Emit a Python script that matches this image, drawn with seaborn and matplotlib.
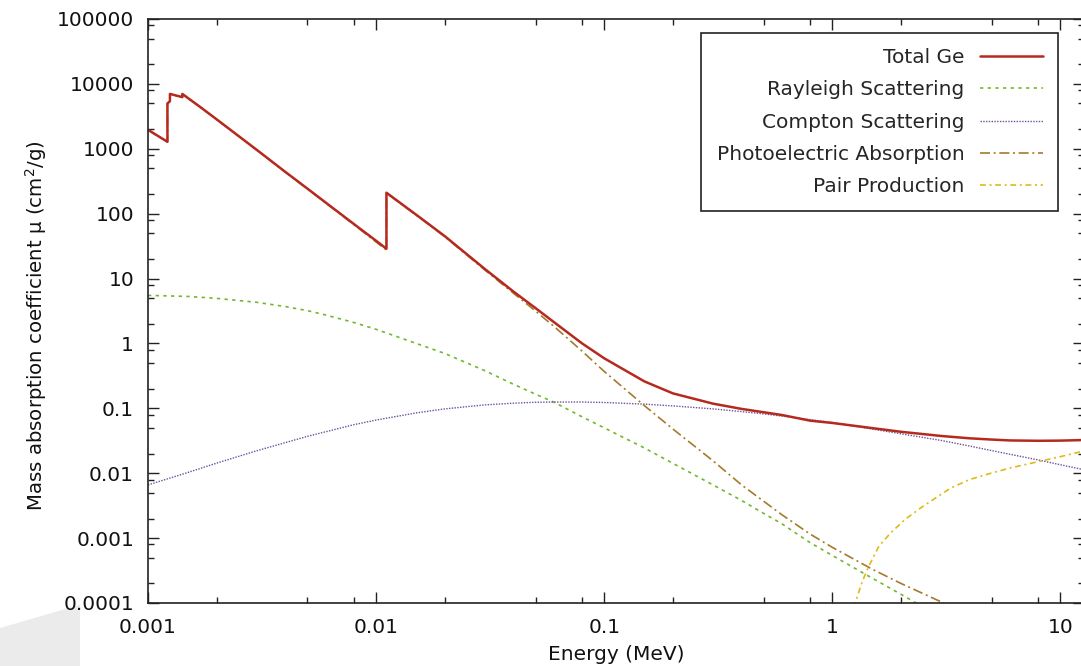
import numpy as np
import pandas as pd
import seaborn as sns
import matplotlib.pyplot as plt
from matplotlib.lines import Line2D
from matplotlib.patches import Polygon
from matplotlib.ticker import LogLocator, NullFormatter, FixedFormatter, FixedLocator

# Mass absorption data for germanium
# (energy in MeV, mu in cm^2/g); duplicated energies are absorption edges
total_energy = [0.001, 0.001217, 0.001217, 0.001248, 0.001248, 0.001414, 0.001414,
                0.00169, 0.002, 0.003, 0.004, 0.005, 0.006, 0.008, 0.01, 0.0111,
                0.0111, 0.0156, 0.02, 0.03, 0.04, 0.05, 0.06, 0.08, 0.1, 0.15,
                0.2, 0.3, 0.4, 0.5, 0.6, 0.8, 1.0, 1.5, 2.0, 3.0, 4.0, 5.0, 6.0,
                8.0, 10.0, 12.4, 15.0]
total_mu = [1960, 1280, 5000, 5400, 7000, 6250, 7000,
            4430, 2840, 960, 440, 243, 149, 69, 38.2, 28.8,
            210, 86.7, 45, 14, 6.3, 3.5, 2.15, 1.0, 0.59, 0.26,
            0.17, 0.118, 0.098, 0.087, 0.079, 0.0645, 0.0595, 0.0495, 0.0435,
            0.0375, 0.0345, 0.033, 0.032, 0.0316, 0.0318, 0.0324, 0.033]

rayleigh_energy = [0.001, 0.0015, 0.002, 0.003, 0.004, 0.005, 0.006, 0.008, 0.01,
                   0.015, 0.02, 0.03, 0.04, 0.05, 0.06, 0.08, 0.1, 0.15, 0.2,
                   0.3, 0.4, 0.5, 0.6, 0.8, 1.0, 1.5, 2.0, 2.5, 3.0]
rayleigh_mu = [5.5, 5.3, 4.95, 4.3, 3.7, 3.2, 2.75, 2.1, 1.65,
               1.0, 0.7, 0.38, 0.235, 0.165, 0.125, 0.074, 0.05, 0.0245, 0.0142,
               0.0066, 0.0038, 0.0024, 0.00167, 0.00085, 0.00054, 0.00024,
               0.000136, 0.000087, 0.00006]

compton_energy = [0.001, 0.0015, 0.002, 0.003, 0.005, 0.008, 0.01, 0.015, 0.02,
                  0.03, 0.04, 0.05, 0.06, 0.08, 0.1, 0.15, 0.2, 0.3, 0.4, 0.5,
                  0.6, 0.8, 1.0, 1.5, 2.0, 3.0, 4.0, 5.0, 6.0, 8.0, 10.0, 12.4, 15.0]
compton_mu = [0.0066, 0.0103, 0.0143, 0.0222, 0.037, 0.056, 0.066, 0.085, 0.098,
              0.113, 0.12, 0.124, 0.125, 0.125, 0.123, 0.116, 0.109, 0.098, 0.089,
              0.082, 0.076, 0.067, 0.0605, 0.0478, 0.0405, 0.032, 0.0262, 0.0223,
              0.0196, 0.016, 0.0135, 0.0115, 0.0101]

photo_energy = [0.001, 0.001217, 0.001217, 0.001248, 0.001248, 0.001414, 0.001414,
                0.00169, 0.002, 0.003, 0.004, 0.005, 0.006, 0.008, 0.01, 0.0111,
                0.0111, 0.0156, 0.02, 0.03, 0.04, 0.05, 0.06, 0.08, 0.1, 0.15,
                0.2, 0.3, 0.4, 0.5, 0.6, 0.8, 1.0, 1.5, 2.0, 3.0, 3.5]
photo_mu = [1950, 1272, 4990, 5390, 6990, 6240, 6990,
            4420, 2830, 955, 436, 240, 147, 67.5, 36.6, 27.5,
            208, 85.6, 44.2, 13.5, 5.95, 3.15, 1.85, 0.76, 0.37, 0.11,
            0.048, 0.0155, 0.0066, 0.0037, 0.0023, 0.00115, 0.00072, 0.00033,
            0.0002, 0.000104, 0.00008]

pair_energy = [1.2, 1.26, 1.35, 1.44, 1.6, 1.8, 2.09, 2.5, 3.3, 4.0, 5.0, 6.0,
               8.0, 10.0, 12.4, 15.0]
pair_mu = [0.00005, 0.0001, 0.00021, 0.00036, 0.00075, 0.0012, 0.00196, 0.0031,
           0.0059, 0.008, 0.0101, 0.012, 0.0151, 0.018, 0.0216, 0.024]

x_ticks = [0.001, 0.01, 0.1, 1, 10]
x_tick_labels = ['0.001', '0.01', '0.1', '1', '10']
y_ticks = [1e-4, 1e-3, 1e-2, 1e-1, 1, 10, 100, 1000, 10000, 100000]
y_tick_labels = ['0.0001', '0.001', '0.01', '0.1', '1', '10', '100', '1000', '10000', '100000']

series = [
    ('Total Ge', total_energy, total_mu, '#b52a1f', '-', 1.8),
    ('Rayleigh Scattering', rayleigh_energy, rayleigh_mu, '#72b82e', (0, (2.0, 2.6)), 1.2),
    ('Compton Scattering', compton_energy, compton_mu, '#6e4f9c', (0, (1.0, 1.0)), 1.0),
    ('Photoelectric Absorption', photo_energy, photo_mu, '#a67a2c', (0, (6, 2.2, 1.2, 2.2)), 1.2),
    ('Pair Production', pair_energy, pair_mu, '#dcbc14', (0, (3.5, 2.2, 1.2, 2.2)), 1.2),
]

sns.set_theme(style='ticks')
plt.rcParams['font.family'] = ['DejaVu Sans']
plt.rcParams['mathtext.default'] = 'regular'

fig = plt.figure(figsize=(10.81, 6.66), dpi=100)
fig.patches.append(Polygon([[0, 0.057], [0.074, 0.092], [0.074, 0], [0, 0]],
                           closed=True, transform=fig.transFigure,
                           facecolor='#ebebeb', edgecolor='none', zorder=-10))
ax = fig.add_axes([0.1369, 0.0946, 0.866, 0.8769])

handles = []
# plot the components first so the total sits on top
for name, xs, ys, color, ls, lw in series[1:] + series[:1]:
    df = pd.DataFrame({'energy': xs, 'mu': ys})
    sns.lineplot(data=df, x='energy', y='mu', ax=ax, color=color, linestyle=ls,
                 linewidth=lw, estimator=None, sort=False, legend=False)
for name, xs, ys, color, ls, lw in series:
    handles.append(Line2D([], [], color=color, linestyle=ls, linewidth=lw, label=name))

ax.set_xscale('log')
ax.set_yscale('log')
ax.set_xlim(0.001, 12.7)
ax.set_ylim(1e-4, 1e5)

ax.xaxis.set_major_locator(FixedLocator(x_ticks))
ax.xaxis.set_major_formatter(FixedFormatter(x_tick_labels))
ax.yaxis.set_major_locator(FixedLocator(y_ticks))
ax.yaxis.set_major_formatter(FixedFormatter(y_tick_labels))
ax.xaxis.set_minor_locator(LogLocator(base=10, subs=(2, 5, 8), numticks=20))
ax.yaxis.set_minor_locator(LogLocator(base=10, subs=(2, 5, 8), numticks=20))
ax.xaxis.set_minor_formatter(NullFormatter())
ax.yaxis.set_minor_formatter(NullFormatter())

ax.tick_params(which='both', direction='in', top=True, right=True, color='#222222', width=1.0)
ax.tick_params(which='major', length=8, labelsize=14.5, labelcolor='#111111')
ax.tick_params(which='minor', length=4)
ax.tick_params(axis='x', which='major', pad=10.5)
ax.tick_params(axis='y', which='major', pad=10)
for sp in ax.spines.values():
    sp.set_color('#222222')
    sp.set_linewidth(1.2)

ax.set_xlabel('Energy (MeV)', fontsize=14.5, color='#111111')
ax.xaxis.set_label_coords(0.5, -0.072)
ax.set_ylabel(r'Mass absorption coefficient μ (cm$^2$/g)', fontsize=14.2, color='#111111')
ax.yaxis.set_label_coords(-0.106, 0.475)

leg = ax.legend(handles=handles, loc='upper right', bbox_to_anchor=(0.972, 0.976),
                borderaxespad=0, markerfirst=False, fancybox=False, framealpha=1,
                edgecolor='#222222', fontsize=14.5, handlelength=3.1, labelspacing=0.66,
                borderpad=0.75, handletextpad=0.8)
leg.get_frame().set_linewidth(1.2)

fig.savefig('out.png', dpi=100)
